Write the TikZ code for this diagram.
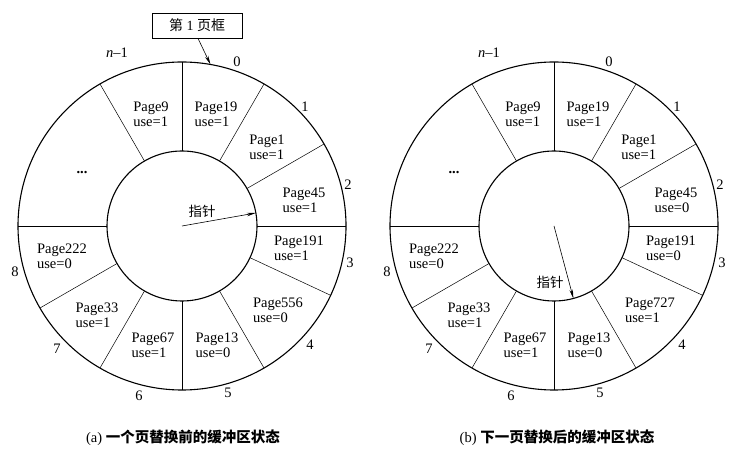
\documentclass[tikz,border=0pt]{standalone}
\usepackage{fontspec}
\setmainfont{Liberation Serif}
\newfontfamily\cjk{Noto Sans CJK SC}
\usetikzlibrary{arrows.meta}
\begin{document}
\begin{tikzpicture}[x=1pt,y=1pt,
  ring/.style={line width=1.1pt},
  divider/.style={line width=0.5pt},
  pagelabel/.style={align=left,font=\fontsize{14.5}{15}\selectfont,inner sep=0pt},
  slotnum/.style={font=\fontsize{14.5}{14.5}\selectfont,inner sep=0pt},
  ptr/.style={-{Stealth[length=9pt,width=3.5pt]},line width=0.6pt},
  captext/.style={font=\fontsize{13.5}{14}\selectfont,inner sep=0pt},
  capline/.style={font=\fontsize{14.5}{15}\selectfont,inner sep=0pt},
  framebox/.style={draw,line width=0.8pt,minimum width=90pt,minimum height=25pt,inner sep=0pt,font=\fontsize{14}{14}\selectfont}]
\useasboundingbox (0,0) rectangle (744,452);

% ---------- (a) ----------
\begin{scope}[shift={(182,226)}]
  \coordinate (ca) at (0,0);
  \draw[ring] (ca) circle (164);
  \draw[ring] (ca) circle (75);
  \foreach \a in {90,60,30,0,-25,-60,-90,-120,-150,180,120}
    \draw[divider] (\a:75) -- (\a:164);
  \node[pagelabel] (a9)   at (-31,112) {Page9\\use=1};
  \node[pagelabel] (a19)  at (34,112)  {Page19\\use=1};
  \node[pagelabel] (a1)   at (85,79)   {Page1\\use=1};
  \node[pagelabel] (a45)  at (122,26)  {Page45\\use=1};
  \node[pagelabel] (a191) at (117,-22) {Page191\\use=1};
  \node[pagelabel] (a556) at (96,-84)  {Page556\\use=0};
  \node[pagelabel] (a13)  at (35,-119) {Page13\\use=0};
  \node[pagelabel] (a67)  at (-29,-119) {Page67\\use=1};
  \node[pagelabel] (a33)  at (-85,-89) {Page33\\use=1};
  \node[pagelabel] (a222) at (-120,-30) {Page222\\use=0};
  \node[pagelabel] (adots) at (-100,53) {\bfseries ...};
  \node[slotnum] (an0) at (55,164) {0};
  \node[slotnum] (an1) at (123,119) {1};
  \node[slotnum] (an2) at (166,41) {2};
  \node[slotnum] (an3) at (168,-37) {3};
  \node[slotnum] (an4) at (128,-119) {4};
  \node[slotnum] (an5) at (46,-167) {5};
  \node[slotnum] (an6) at (-43,-170) {6};
  \node[slotnum] (an7) at (-125,-123) {7};
  \node[slotnum] (an8) at (-167,-46) {8};
  \node[slotnum] (ann) at (-65,173) {\textit{n}--1};
  \coordinate (atip) at (10:75);
  \draw[ptr] (ca) -- (atip);
  \node[captext] (aptr) at (20,15) {\cjk 指针};
  \coordinate (aframe) at (80:164);
\end{scope}
\node[framebox] (box) at (197,426.5) {{\cjk 第}~1~{\cjk 页框}};
\draw[ptr] ([xshift=1pt]box.south) -- (aframe);
\node[capline] (capa) at (183,14) {(a)~{\cjk\bfseries 一个页替换前的缓冲区状态}};

% ---------- (b) ----------
\begin{scope}[shift={(554,226)}]
  \coordinate (cb) at (0,0);
  \draw[ring] (cb) circle (164);
  \draw[ring] (cb) circle (75);
  \foreach \a in {90,60,30,0,-25,-60,-90,-120,-150,180,120}
    \draw[divider] (\a:75) -- (\a:164);
  \node[pagelabel] (b9)   at (-31,112) {Page9\\use=1};
  \node[pagelabel] (b19)  at (34,112)  {Page19\\use=1};
  \node[pagelabel] (b1)   at (85,79)   {Page1\\use=1};
  \node[pagelabel] (b45)  at (122,26)  {Page45\\use=0};
  \node[pagelabel] (b191) at (117,-22) {Page191\\use=0};
  \node[pagelabel] (b727) at (96,-84)  {Page727\\use=1};
  \node[pagelabel] (b13)  at (35,-119) {Page13\\use=0};
  \node[pagelabel] (b67)  at (-29,-119) {Page67\\use=1};
  \node[pagelabel] (b33)  at (-85,-89) {Page33\\use=1};
  \node[pagelabel] (b222) at (-120,-30) {Page222\\use=0};
  \node[pagelabel] (bdots) at (-100,53) {\bfseries ...};
  \node[slotnum] (bn0) at (55,164) {0};
  \node[slotnum] (bn1) at (123,119) {1};
  \node[slotnum] (bn2) at (166,41) {2};
  \node[slotnum] (bn3) at (168,-37) {3};
  \node[slotnum] (bn4) at (128,-119) {4};
  \node[slotnum] (bn5) at (46,-167) {5};
  \node[slotnum] (bn6) at (-43,-170) {6};
  \node[slotnum] (bn7) at (-125,-123) {7};
  \node[slotnum] (bn8) at (-167,-46) {8};
  \node[slotnum] (bnn) at (-65,173) {\textit{n}--1};
  \coordinate (btip) at (-75:75);
  \draw[ptr] (cb) -- (btip);
  \node[captext] (bptr) at (-4,-56) {\cjk 指针};
\end{scope}
\node[capline] (capb) at (557,14) {(b)~{\cjk\bfseries 下一页替换后的缓冲区状态}};
\end{tikzpicture}
\end{document}
